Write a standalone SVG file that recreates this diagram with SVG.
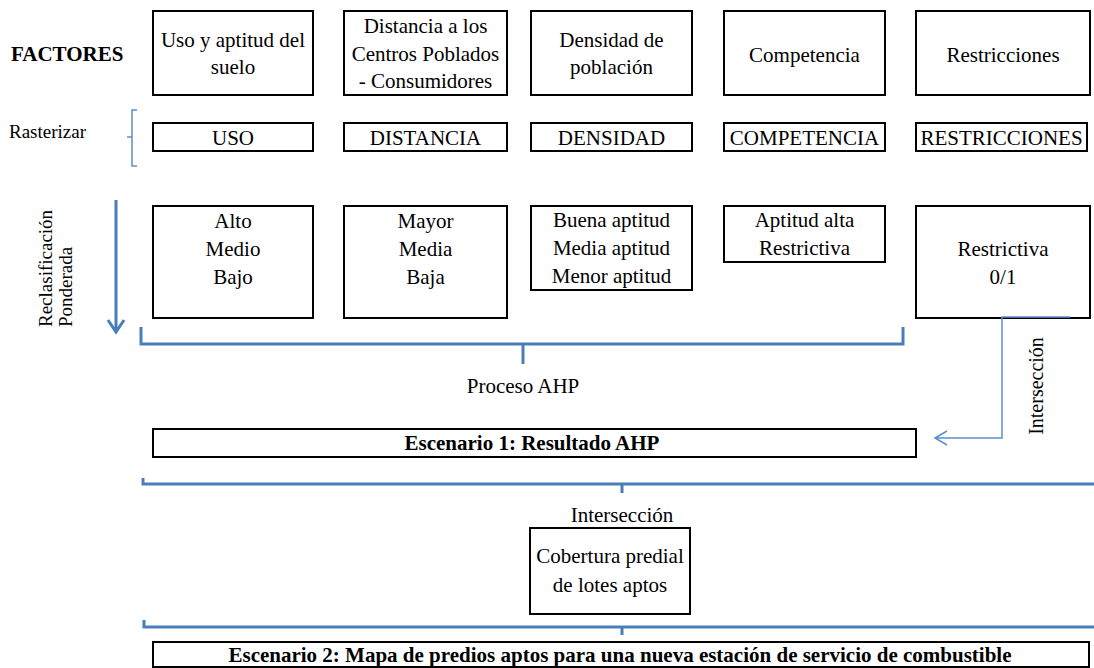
<svg xmlns="http://www.w3.org/2000/svg" width="1094" height="668" viewBox="0 0 1094 668" font-family="'Liberation Serif', serif">
<defs>
<style>
.box{fill:#fff;stroke:#000;stroke-width:2}
.t{font-size:21px;fill:#000;text-anchor:middle}
.b{font-weight:bold}
.l{text-anchor:start}
.br{fill:none;stroke:#4a7ebb;stroke-width:3}
.thin{fill:none;stroke:#5b8fd0;stroke-width:1.5}
</style>
</defs>
<rect width="1094" height="668" fill="#fff"/>
<g id="labels">
<text class="t b l" x="11" y="61">FACTORES</text>
<text class="t l" x="9" y="138" style="font-size:19px">Rasterizar</text>
<text class="t l" transform="translate(52,327) rotate(-90)" style="font-size:19px">Reclasificación</text>
<text class="t l" transform="translate(72,327) rotate(-90)" style="font-size:19px">Ponderada</text>
<text class="t" x="523" y="393">Proceso AHP</text>
<text class="t" transform="translate(1043,386) rotate(-90)" style="font-size:20px">Intersección</text>
<text class="t" x="622" y="522">Intersección</text>
</g>
<g id="f1"><rect class="box" x="153" y="11" width="160" height="84"/><text class="t" x="233" y="47">Uso y aptitud del</text><text class="t" x="233" y="74">suelo</text></g>
<g id="f2"><rect class="box" x="344" y="11" width="163" height="84"/><text class="t" x="425.5" y="33">Distancia a los</text><text class="t" x="425.5" y="61">Centros Poblados</text><text class="t" x="425.5" y="88">- Consumidores</text></g>
<g id="f3"><rect class="box" x="531" y="11" width="161" height="84"/><text class="t" x="611.5" y="47">Densidad de</text><text class="t" x="611.5" y="74">población</text></g>
<g id="f4"><rect class="box" x="724" y="11" width="161" height="84"/><text class="t" x="804.5" y="62">Competencia</text></g>
<g id="f5"><rect class="box" x="916" y="11" width="174" height="84"/><text class="t" x="1003" y="62">Restricciones</text></g>
<g id="r1"><rect class="box" x="153" y="123" width="160" height="28"/><text class="t" x="233" y="145">USO</text></g>
<g id="r2"><rect class="box" x="344" y="123" width="163" height="28"/><text class="t" x="425.5" y="145">DISTANCIA</text></g>
<g id="r3"><rect class="box" x="531" y="123" width="161" height="28"/><text class="t" x="611.5" y="145">DENSIDAD</text></g>
<g id="r4"><rect class="box" x="724" y="123" width="161" height="28"/><text class="t" x="804.5" y="145">COMPETENCIA</text></g>
<g id="r5"><rect class="box" x="916" y="123" width="171" height="28"/><text class="t" x="1001.5" y="145">RESTRICCIONES</text></g>
<g id="c1"><rect class="box" x="153" y="206" width="160" height="112"/><text class="t" x="233" y="228">Alto</text><text class="t" x="233" y="256">Medio</text><text class="t" x="233" y="284">Bajo</text></g>
<g id="c2"><rect class="box" x="344" y="206" width="163" height="112"/><text class="t" x="425.5" y="228">Mayor</text><text class="t" x="425.5" y="256">Media</text><text class="t" x="425.5" y="284">Baja</text></g>
<g id="c3"><rect class="box" x="531" y="206" width="161" height="84"/><text class="t" x="611.5" y="227">Buena aptitud</text><text class="t" x="611.5" y="255">Media aptitud</text><text class="t" x="611.5" y="283">Menor aptitud</text></g>
<g id="c4"><rect class="box" x="724" y="206" width="161" height="56"/><text class="t" x="804.5" y="227">Aptitud alta</text><text class="t" x="804.5" y="255">Restrictiva</text></g>
<g id="c5"><rect class="box" x="916" y="206" width="174" height="112"/><text class="t" x="1003" y="256">Restrictiva</text><text class="t" x="1003" y="284">0/1</text></g>
<g id="e1"><rect class="box" x="153" y="429" width="763" height="28"/><text class="t b" x="532" y="450">Escenario 1: Resultado AHP</text></g>
<g id="cob"><rect class="box" x="530" y="528" width="160" height="86"/><text class="t" x="610" y="563">Cobertura predial</text><text class="t" x="610" y="592">de lotes aptos</text></g>
<g id="e2"><rect class="box" x="153" y="642" width="936" height="25"/><text class="t b" x="620" y="662">Escenario 2: Mapa de predios aptos para una nueva estación de servicio de combustible</text></g>
<g id="connectors">
<path class="thin" d="M137,110 H132 V166 H137 M132,137 H127"/>
<path class="br" d="M116,200 V332 M108,320 L116,332 L124,320"/>
<path class="br" d="M141,327 V344 H903 V327 M523,344 V364"/>
<path class="thin" d="M1070,317 H1002 V438 H935 M947,431 L935,438 L947,445"/>
<path class="br" d="M143,478 V484 H1094 M622,484 V493"/>
<path class="br" d="M144,620 V627 H1094 M622,627 V635"/>
</g>
</svg>
